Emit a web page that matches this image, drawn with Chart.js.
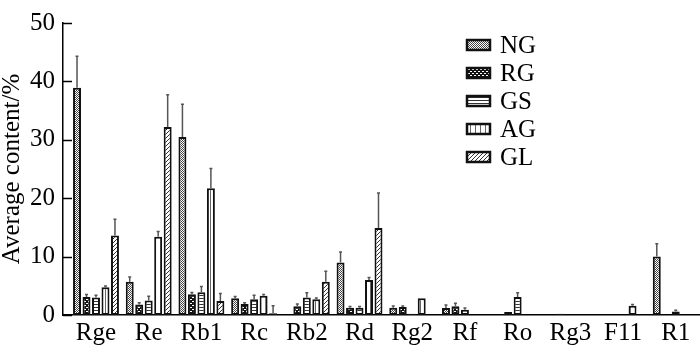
<!DOCTYPE html>
<html>
<head>
<meta charset="utf-8">
<title>Average content</title>
<script src="https://cdn.jsdelivr.net/npm/chart.js@4.4.1/dist/chart.umd.min.js"></script>
<style>
  body { margin: 0; padding: 0; background: #fff; }
  #wrap { position: relative; width: 700px; height: 348px; }
</style>
</head>
<body>
<div id="wrap"><canvas id="chart" width="700" height="348"></canvas></div>
<script>
const categories = ['Rge', 'Re', 'Rb1', 'Rc', 'Rb2', 'Rd', 'Rg2', 'Rf', 'Ro', 'Rg3', 'F11', 'R1'];
const seriesNames = ['NG', 'RG', 'GS', 'AG', 'GL'];

// mean values (%), 0 = no bar
const ngValues = [38.9, 5.7, 30.5, 2.85, 0, 9.0, 1.25, 1.2, 0, 0, 0, 10.0];
const rgValues = [3.1, 1.8, 3.55, 1.9, 1.5, 1.25, 1.35, 1.5, 0.5, 0.2, 0, 0];
const gsValues = [3.0, 2.5, 3.9, 2.7, 3.0, 1.25, 0.2, 0.9, 3.1, 0, 0, 0.6];
const agValues = [4.75, 13.4, 21.7, 3.3, 2.7, 6.0, 2.85, 0, 0, 0, 1.6, 0];
const glValues = [13.6, 32.2, 2.4, 0.3, 5.7, 14.9, 0, 0, 0, 0, 0, 0];

// upper error (SD)
const ngErrors = [5.4, 0.8, 5.6, 0.3, 0, 1.8, 0.3, 0.5, 0, 0, 0, 2.2];
const rgErrors = [0.4, 0.3, 0.3, 0.2, 0.4, 0.2, 0.2, 0.5, 0, 0, 0, 0];
const gsErrors = [0.4, 0.7, 1.0, 0.7, 0.8, 0.2, 0, 0.3, 0.7, 0, 0, 0.2];
const agErrors = [0.2, 0.9, 3.4, 0.2, 0.2, 0.4, 0, 0, 0, 0, 0.2, 0];
const glErrors = [2.8, 5.5, 1.3, 1.3, 1.8, 6.0, 0, 0, 0, 0, 0, 0];

const yTicks = [0, 10, 20, 30, 40, 50];

const seriesValues = [ngValues, rgValues, gsValues, agValues, glValues];
const seriesErrors = [ngErrors, rgErrors, gsErrors, agErrors, glErrors];

const FONT = '"Liberation Serif", "Times New Roman", serif';
const X_MIN = -0.626, X_MAX = 11.46;

// fill patterns for the five groups
function makePattern(kind) {
    const c = document.createElement('canvas');
    if (kind === 'NG') {
        c.width = 2; c.height = 2;
        const g = c.getContext('2d');
        g.fillStyle = '#fff'; g.fillRect(0, 0, 2, 2);
        g.fillStyle = '#444'; g.fillRect(0, 0, 1, 1); g.fillRect(1, 1, 1, 1);
    } else if (kind === 'RG') {
        c.width = 4; c.height = 4;
        const g = c.getContext('2d');
        g.fillStyle = '#111'; g.fillRect(0, 0, 4, 4);
        g.fillStyle = '#fff'; g.fillRect(0, 1, 2, 1); g.fillRect(2, 3, 2, 1);
    } else if (kind === 'GS') {
        c.width = 1; c.height = 3;
        const g = c.getContext('2d');
        g.fillStyle = '#fff'; g.fillRect(0, 0, 1, 3);
        g.fillStyle = '#333'; g.fillRect(0, 1, 1, 1);
    } else if (kind === 'AG') {
        c.width = 5; c.height = 1;
        const g = c.getContext('2d');
        g.fillStyle = '#fff'; g.fillRect(0, 0, 5, 1);
        g.fillStyle = '#666'; g.fillRect(0, 0, 1, 1);
    } else {
        c.width = 4; c.height = 4;
        const g = c.getContext('2d');
        g.fillStyle = '#fff'; g.fillRect(0, 0, 4, 4);
        g.fillStyle = '#333';
        g.fillRect(3, 0, 1, 1); g.fillRect(2, 1, 1, 1); g.fillRect(1, 2, 1, 1); g.fillRect(0, 3, 1, 1);
    }
    return c.getContext('2d').createPattern(c, 'repeat');
}
const patterns = seriesNames.map(makePattern);

const datasets = seriesNames.map((name, s) => ({
    label: name,
    data: seriesValues[s].map((v, i) => ({ x: i, y: v > 0 ? v : null })),
    errors: seriesErrors[s],
    backgroundColor: patterns[s],
    borderColor: '#111',
    borderWidth: 2,
    borderSkipped: false,
    categoryPercentage: 0.9,
    barPercentage: 0.84
}));

// error bars, inward y ticks and the legend box
const extras = {
    id: 'extras',
    afterDatasetsDraw(chart) {
        const ctx = chart.ctx;
        const y = chart.scales.y;
        const area = chart.chartArea;
        ctx.save();

        ctx.strokeStyle = '#555';
        ctx.lineWidth = 1.5;
        chart.data.datasets.forEach((ds, s) => {
            const meta = chart.getDatasetMeta(s);
            meta.data.forEach((bar, i) => {
                const v = ds.data[i].y;
                const e = ds.errors[i];
                if (v == null || !e) return;
                const top = y.getPixelForValue(v + e);
                ctx.beginPath();
                ctx.moveTo(bar.x, bar.y);
                ctx.lineTo(bar.x, top);
                ctx.moveTo(bar.x - 1.5, top);
                ctx.lineTo(bar.x + 1.5, top);
                ctx.stroke();
            });
        });

        ctx.strokeStyle = '#000';
        ctx.lineWidth = 1.5;
        yTicks.forEach(t => {
            const py = Math.round(y.getPixelForValue(t)) + 0.5;
            ctx.beginPath();
            ctx.moveTo(area.left, py);
            ctx.lineTo(area.left + 9, py);
            ctx.stroke();
        });

        // legend
        ctx.font = '25px ' + FONT;
        ctx.textBaseline = 'middle';
        ctx.textAlign = 'left';
        seriesNames.forEach((name, s) => {
            const yc = 45 + s * 28;
            ctx.fillStyle = patterns[s];
            ctx.fillRect(467, yc - 5, 23, 10);
            ctx.strokeStyle = '#111';
            ctx.lineWidth = 2.5;
            ctx.strokeRect(467, yc - 5, 23, 10);
            ctx.fillStyle = '#000';
            ctx.fillText(name, 500, yc + 1);
        });
        ctx.restore();
    }
};

new Chart(document.getElementById('chart'), {
    type: 'bar',
    data: { datasets: datasets },
    options: {
        responsive: false,
        devicePixelRatio: 1,
        animation: false,
        layout: { padding: { top: 10, right: 0, bottom: 0, left: 0 } },
        plugins: { legend: { display: false }, tooltip: { enabled: false } },
        scales: {
            x: {
                type: 'linear',
                offset: false,
                bounds: 'data',
                min: X_MIN,
                max: X_MAX,
                afterBuildTicks: scale => {
                    scale.ticks = categories.map((c, i) => ({ value: i }));
                    scale.min = X_MIN;
                    scale.max = X_MAX;
                },
                afterFit: scale => { scale.height = 33; },
                ticks: {
                    callback: v => categories[v],
                    autoSkip: false,
                    maxRotation: 0,
                    padding: 3,
                    color: '#000',
                    font: { family: FONT, size: 25 }
                },
                grid: { display: false, drawTicks: false, offset: false },
                border: { display: true, color: '#000', width: 1.5 }
            },
            y: {
                min: 0,
                max: 50,
                afterBuildTicks: scale => { scale.ticks = yTicks.map(v => ({ value: v })); },
                afterFit: scale => { scale.width = 63; },
                ticks: {
                    padding: 8,
                    color: '#000',
                    font: { family: FONT, size: 25 }
                },
                grid: { display: false, drawTicks: false },
                border: { display: true, color: '#000', width: 1.5 },
                title: {
                    display: true,
                    text: 'Average content/%',
                    color: '#000',
                    padding: 0,
                    font: { family: FONT, size: 25, lineHeight: 1 }
                }
            }
        }
    },
    plugins: [extras]
});
</script>
</body>
</html>
